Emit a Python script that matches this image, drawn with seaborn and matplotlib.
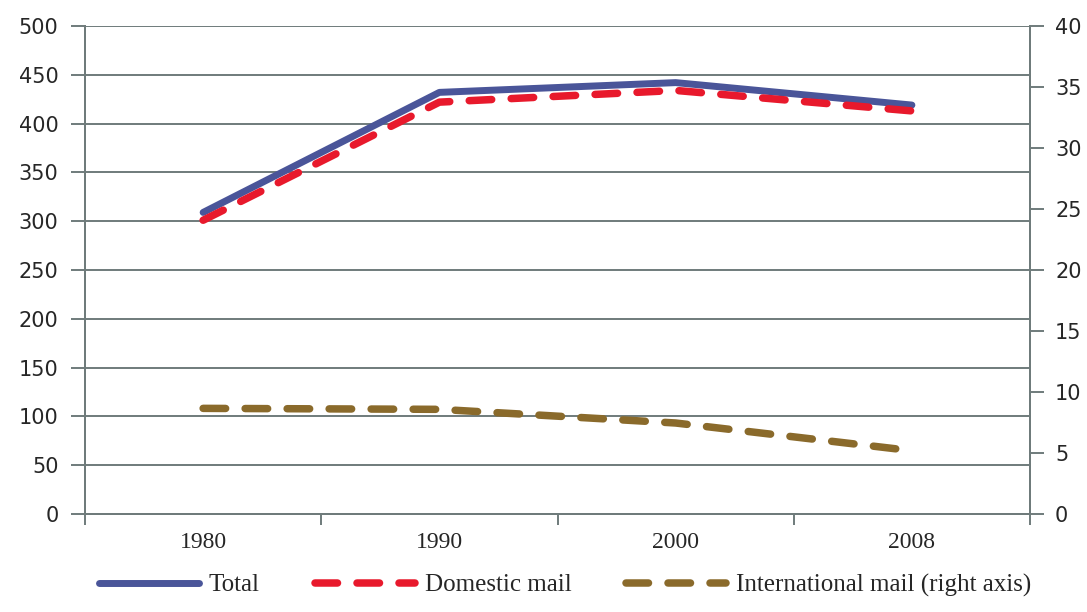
import matplotlib
matplotlib.use("Agg")
import matplotlib.pyplot as plt
import seaborn as sns
import pandas as pd
from matplotlib.lines import Line2D

# Mail volumes by year
years = ["1980", "1990", "2000", "2008"]
total = [309, 432, 442, 419]
domestic = [301, 422, 434, 413]
international = [8.66, 8.58, 7.46, 5.19]  # plotted on the right axis

series_names = ["Total", "Domestic mail", "International mail (right axis)"]

sns.set_style("white")

BLUE = "#4A5599"
RED = "#E8192C"
OLIVE = "#8A6A2B"
GRID = "#6F7B7B"

LW_TOTAL = 5.0
LW_DASH = 5.4
DASH = (3.0, 2.6)

pos = list(range(len(years)))
df_left = pd.DataFrame({"pos": pos, "Total": total, "Domestic": domestic})
df_right = pd.DataFrame({"pos": pos, "International": international})

fig = plt.figure(figsize=(10.87, 6.12), dpi=100)
ax = fig.add_axes([0.0782, 0.1601, 0.8694, 0.7974])
ax2 = ax.twinx()

sns.lineplot(data=df_left, x="pos", y="Total", ax=ax, color=BLUE, lw=LW_TOTAL,
             solid_capstyle="round", solid_joinstyle="round", zorder=3)
sns.lineplot(data=df_left, x="pos", y="Domestic", ax=ax, color=RED, lw=LW_DASH,
             zorder=4)
ax.lines[-1].set_dashes(DASH)
ax.lines[-1].set_dash_capstyle("round")

sns.lineplot(data=df_right, x="pos", y="International", ax=ax2, color=OLIVE,
             lw=LW_DASH, zorder=4)
ax2.lines[-1].set_dashes(DASH)
ax2.lines[-1].set_dash_capstyle("round")

# Left axis
ax.set_xlim(-0.5, len(years) - 0.5)
ax.set_ylim(0, 500)
ax.set_yticks(range(0, 501, 50))
ax.yaxis.grid(True, color=GRID, lw=1.4)
ax.set_axisbelow(True)
ax.set_xlabel("")
ax.set_ylabel("")
ax.set_xticks([p - 0.5 for p in pos] + [len(years) - 0.5])
ax.set_xticklabels([])
ax.set_xticks(pos, minor=True)
ax.set_xticklabels(years, minor=True, fontfamily="Liberation Serif", fontsize=17)
ax.tick_params(axis="x", which="major", direction="out", length=8, width=1.4,
               color=GRID, bottom=True)
ax.tick_params(axis="x", which="minor", length=0, pad=13, bottom=True)
ax.tick_params(axis="y", direction="out", length=10, width=1.4, color=GRID,
               left=True, pad=9, labelsize=15)
for lab in ax.get_yticklabels():
    lab.set_fontfamily("DejaVu Sans")

# Right axis
ax2.set_ylim(0, 40)
ax2.set_yticks(range(0, 41, 5))
ax2.set_ylabel("")
ax2.tick_params(axis="y", direction="out", length=10, width=1.4, color=GRID,
                right=True, pad=8, labelsize=15)
for lab in ax2.get_yticklabels():
    lab.set_fontfamily("DejaVu Sans")

for a in (ax, ax2):
    a.spines["top"].set_visible(False)
    for s in ("left", "right", "bottom"):
        a.spines[s].set_color(GRID)
        a.spines[s].set_linewidth(1.4)

# Legend along the bottom edge
handles = [
    Line2D([], [], color=BLUE, lw=LW_TOTAL, solid_capstyle="round"),
    Line2D([], [], color=RED, lw=LW_DASH, dashes=DASH, dash_capstyle="round"),
    Line2D([], [], color=OLIVE, lw=LW_DASH, dashes=DASH, dash_capstyle="round"),
]
fig.legend(handles, series_names, loc="lower center", bbox_to_anchor=(0.52, -0.012),
           ncol=3, frameon=False, prop={"family": "Liberation Serif", "size": 18},
           handlelength=4.0, handletextpad=0.4, columnspacing=2.2)

fig.savefig("out.png", dpi=100)
